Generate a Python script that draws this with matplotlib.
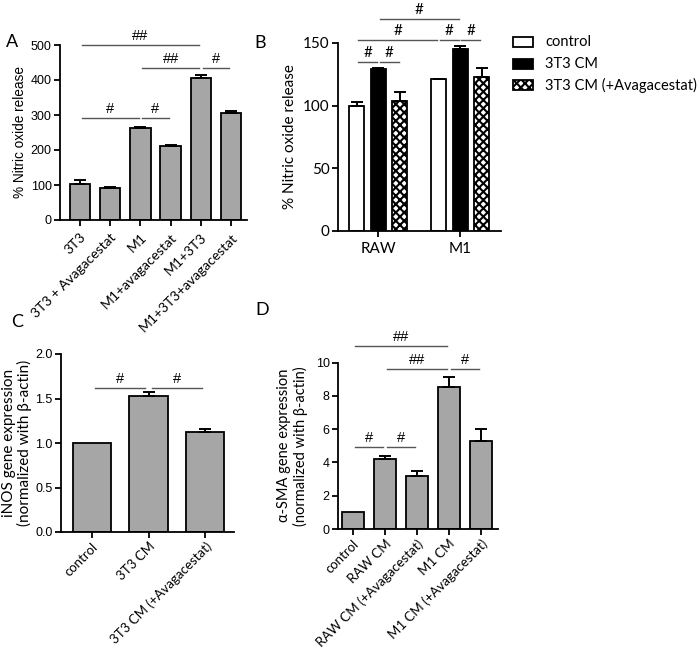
import numpy as np
import matplotlib
matplotlib.use("Agg")
import matplotlib.pyplot as plt
from matplotlib.patches import Rectangle


# Panel A: nitric oxide release per condition
a_labels = ["3T3", "3T3 + Avagacestat", "M1", "M1+avagacestat", "M1+3T3", "M1+3T3+avagacestat"]
a_values = [102, 92, 264, 212, 405, 305]
a_errors = [11, 3, 3, 3, 8, 6]
a_sig = [(0, 4, 500, "##"), (2, 4, 435, "##"), (4, 5, 435, "#"), (0, 2, 291, "#"), (2, 3, 291, "#")]

# Panel B: grouped bars, RAW vs M1
b_groups = ["RAW", "M1"]
b_series = ["control", "3T3 CM", "3T3 CM (+Avagacestat)"]
b_control = [100, 121]
b_control_err = [3, 0.5]
b_cm = [129, 145]
b_cm_err = [1, 3]
b_cm_avag = [104, 123]
b_cm_avag_err = [7, 7]
b_sig = [(1, 4, 169, "#"), (0, 3, 152, "#"), (3, 4, 152, "#"), (4, 5, 152, "#"),
         (0, 1, 134.5, "#"), (1, 2, 134.5, "#")]

# Panel C: iNOS expression
c_labels = ["control", "3T3 CM", "3T3 CM (+Avagacestat)"]
c_values = [1.0, 1.53, 1.12]
c_errors = [0, 0.045, 0.035]
c_sig = [(0, 1, 1.62, "#"), (1, 2, 1.62, "#")]

# Panel D: alpha-SMA expression
d_labels = ["control", "RAW CM", "RAW CM (+Avagacestat)", "M1 CM", "M1 CM (+Avagacestat)"]
d_values = [1.0, 4.22, 3.2, 8.5, 5.3]
d_errors = [0, 0.18, 0.28, 0.64, 0.73]
d_sig = [(0, 3, 11.0, "##"), (1, 3, 9.6, "##"), (3, 4, 9.6, "#"), (0, 1, 4.9, "#"), (1, 2, 4.9, "#")]


W, H = 697, 651
GRAY = "#a6a6a6"
ARIAL = "Liberation Sans"
CALIBRI = "Lato"

plt.rcParams["font.family"] = ARIAL
plt.rcParams["hatch.linewidth"] = 1.5


# Add axes from pixel box (left, top, right, bottom)
def add_axes_px(fig, left, top, right, bottom):
    return fig.add_axes([left / W, 1 - bottom / H, (right - left) / W, (bottom - top) / H])


# GraphPad-like axis style
def style_axes(ax, ysize, yfamily, xsize, xfamily):
    for side in ["top", "right"]:
        ax.spines[side].set_visible(False)
    for side in ["left", "bottom"]:
        ax.spines[side].set_linewidth(1.3)
    ax.tick_params(direction="out", length=4, width=1.3, pad=2)
    ax.tick_params(axis="y", labelsize=ysize)
    ax.tick_params(axis="x", labelsize=xsize)
    for lab in ax.get_yticklabels():
        lab.set_family(yfamily)
    for lab in ax.get_xticklabels():
        lab.set_family(xfamily)


# Draw error bars above the bars only
def draw_errors(ax, x, values, errors):
    x = np.asarray(x, dtype=float)
    values = np.asarray(values, dtype=float)
    errors = np.asarray(errors, dtype=float)
    keep = errors > 0
    ax.errorbar(x[keep], values[keep], yerr=[np.zeros(keep.sum()), errors[keep]], fmt="none",
                ecolor="black", elinewidth=1.4, capsize=4, capthick=1.4, zorder=3)


# Draw significance lines with # labels
def draw_sig(ax, positions, sig, size, family):
    for i, j, y, label in sig:
        ax.plot([positions[i] + 0.06, positions[j] - 0.06], [y, y], color="#555555", lw=1.0,
                clip_on=False, zorder=4)
        ax.annotate(label, xy=((positions[i] + positions[j]) / 2, y), xytext=(0, 1.5),
                    textcoords="offset points", ha="center", va="bottom", fontsize=size,
                    family=family, annotation_clip=False)


def simple_panel(ax, labels, values, errors, sig, ylim, yticks, xlim, xsize, xpad):
    x = np.arange(len(values))
    ax.bar(x, values, width=0.68, color=GRAY, edgecolor="black", linewidth=1.3, zorder=2)
    draw_errors(ax, x, values, errors)
    ax.set_xlim(*xlim)
    ax.set_ylim(*ylim)
    ax.set_yticks(yticks)
    ax.set_xticks(x)
    ax.set_xticklabels(labels, rotation=45, ha="right", rotation_mode="anchor")
    style_axes(ax, 9, ARIAL, xsize, CALIBRI)
    ax.tick_params(axis="x", pad=xpad)
    draw_sig(ax, x, sig, 10.5, ARIAL)


fig = plt.figure(figsize=(W / 100, H / 100), dpi=100)

# Panel A
ax_a = add_axes_px(fig, 60, 45, 247, 220)
simple_panel(ax_a, a_labels, a_values, a_errors, a_sig, (0, 500), [0, 100, 200, 300, 400, 500],
             (-0.66, 5.53), 10, 4)
ax_a.set_ylabel("% Nitric oxide release", fontsize=9.8)
ax_a.yaxis.set_label_coords(-0.176, 0.5)

# Panel B
ax_b = add_axes_px(fig, 338, 43, 501, 231)
b_pos = np.array([0.0, 1.0, 2.0, 3.8, 4.8, 5.8])
b_vals = [b_control[0], b_cm[0], b_cm_avag[0], b_control[1], b_cm[1], b_cm_avag[1]]
b_errs = [b_control_err[0], b_cm_err[0], b_cm_avag_err[0],
          b_control_err[1], b_cm_err[1], b_cm_avag_err[1]]
ax_b.bar(b_pos[[0, 3]], b_control, width=0.7, color="white", edgecolor="black", linewidth=1.3, zorder=2)
ax_b.bar(b_pos[[1, 4]], b_cm, width=0.7, color="black", edgecolor="black", linewidth=1.3, zorder=2)
ax_b.bar(b_pos[[2, 5]], b_cm_avag, width=0.7, color="white", edgecolor="black", hatch="xxxx",
         linewidth=1.3, zorder=2)
draw_errors(ax_b, b_pos, b_vals, b_errs)
ax_b.set_xlim(-0.88, 6.7)
ax_b.set_ylim(0, 150)
ax_b.set_yticks([0, 50, 100, 150])
ax_b.set_xticks([b_pos[1], b_pos[4]])
ax_b.set_xticklabels(b_groups)
style_axes(ax_b, 11, CALIBRI, 11, CALIBRI)
ax_b.tick_params(axis="x", pad=4)
ax_b.set_ylabel("% Nitric oxide release", fontsize=11, family=CALIBRI)
ax_b.yaxis.set_label_coords(-0.25, 0.5)
draw_sig(ax_b, b_pos, b_sig, 11, CALIBRI)

# Legend for panel B
legend_styles = [("white", None), ("black", None), ("white", "xxxx")]
for k, name in enumerate(b_series):
    yc = [42, 63.5, 85][k]
    face, hatch = legend_styles[k]
    fig.add_artist(Rectangle((513 / W, 1 - (yc + 5) / H), 20 / W, 10 / H, transform=fig.transFigure,
                             facecolor=face, edgecolor="black", hatch=hatch, linewidth=1.3))
    fig.text(545 / W, 1 - yc / H, name, fontsize=10.5, family=CALIBRI, va="center", ha="left")

# Panel C
ax_c = add_axes_px(fig, 61, 354, 234, 532)
simple_panel(ax_c, c_labels, c_values, c_errors, c_sig, (0, 2), [0, 0.5, 1.0, 1.5, 2.0],
             (-0.55, 2.51), 9.5, 2)
ax_c.set_yticklabels(["0.0", "0.5", "1.0", "1.5", "2.0"])
ax_c.set_ylabel("iNOS gene expression\n(normalized with β-actin)", fontsize=11, family=CALIBRI,
                linespacing=1.1)
ax_c.yaxis.set_label_coords(-0.165, 0.5)

# Panel D
ax_d = add_axes_px(fig, 338, 362.5, 498, 529)
simple_panel(ax_d, d_labels, d_values, d_errors, d_sig, (0, 10), [0, 2, 4, 6, 8, 10],
             (-0.47, 4.53), 9.5, 2)
ax_d.set_ylabel("α-SMA gene expression\n(normalized with β-actin)", fontsize=10.5, family=CALIBRI,
                linespacing=1.1)
ax_d.yaxis.set_label_coords(-0.19, 0.5)

# Panel letters
for letter, px, py in [("A", 12, 42), ("B", 260, 43), ("C", 17, 322), ("D", 262, 310)]:
    fig.text(px / W, 1 - py / H, letter, fontsize=13, family=CALIBRI, ha="center", va="center")

fig.savefig("out.png", dpi=100)
